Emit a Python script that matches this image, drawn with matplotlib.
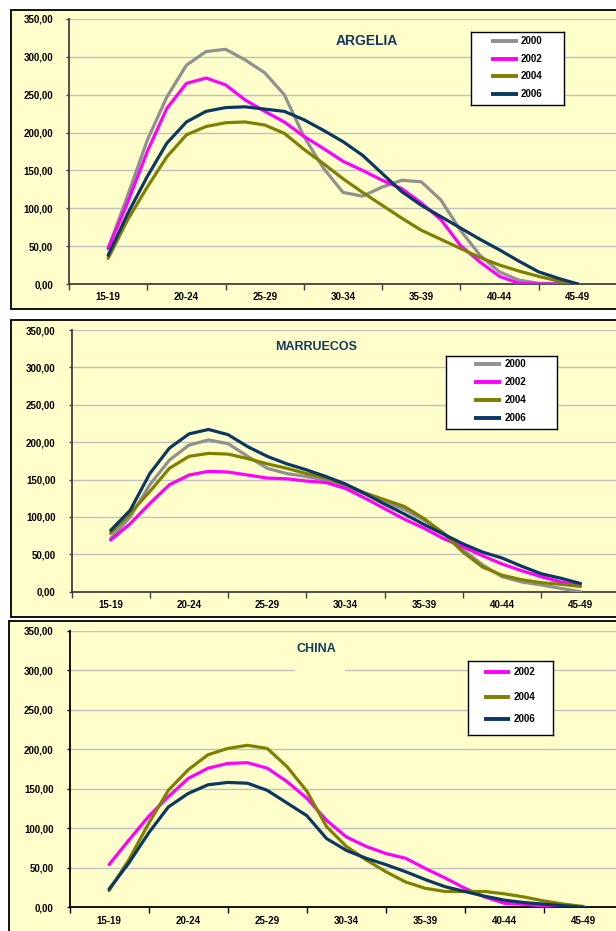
import matplotlib
matplotlib.use("Agg")
import matplotlib.pyplot as plt
import numpy as np
from matplotlib.patches import Rectangle

plt.rcParams["font.family"] = ["Liberation Sans", "DejaVu Sans"]
plt.rcParams["font.weight"] = "bold"

# category axis (age groups), curves sampled every quarter of a group
groups = ["15-19", "20-24", "25-29", "30-34", "35-39", "40-44", "45-49"]
pos = np.linspace(0, 6, 25)

years_4 = ["2000", "2002", "2004", "2006"]
years_3 = ["2002", "2004", "2006"]

# ARGELIA
arg_2000 = [47, 117, 190, 247, 289, 307, 310, 296, 279, 250, 195, 153, 121, 116, 128, 137, 135, 111, 71, 38, 16, 5, 1, 0.5, 0]
arg_2002 = [47, 108, 175, 232, 265, 272, 263, 243, 228, 214, 195, 179, 162, 150, 137, 126, 107, 85, 51, 29, 10, 1, 0, 0, 0]
arg_2004 = [34, 85, 128, 168, 197, 208, 213, 214, 210, 199, 178, 159, 139, 121, 104, 87, 71, 59, 47, 35, 25, 17, 10, 4, 0]
arg_2006 = [38, 93, 142, 186, 214, 228, 233, 234, 231, 228, 217, 203, 188, 170, 146, 122, 104, 89, 74, 59, 45, 30, 16, 7.5, 0]

# MARRUECOS
mar_2000 = [71, 100, 143, 176, 196, 203, 198, 181, 165, 158, 154, 149, 140, 131, 120, 110, 96, 79, 56, 36, 20, 13, 9, 4.5, 0]
mar_2002 = [69, 91, 118, 143, 156, 161, 160, 156, 152, 151, 148, 146, 138, 125, 111, 97, 85, 71, 60, 48, 37, 28, 20, 13, 8]
mar_2004 = [78, 105, 134, 165, 181, 185, 184, 178, 171, 165, 158, 152, 143, 132, 123, 114, 98, 78, 53, 33, 22, 16, 12, 10, 7]
mar_2006 = [82, 109, 158, 192, 211, 217, 210, 194, 181, 171, 163, 154, 144, 131, 117, 104, 90, 77, 64, 53, 45, 34, 24, 18, 11]

# CHINA
chn_2002 = [54, 85, 115, 140, 163, 176, 182, 183, 176, 159, 138, 110, 89, 77, 68, 62, 49, 37, 24, 13, 5, 3.8, 1.7, 0.8, 0]
chn_2004 = [21, 60, 106, 148, 174, 193, 201, 205, 201, 178, 147, 102, 77, 60, 45, 32, 24, 20, 20, 20, 17, 13, 8, 4, 1]
chn_2006 = [23, 56, 94, 127, 144, 155, 158, 157, 148, 132, 116, 87, 72, 62, 54, 45, 35, 26, 20, 14, 9, 6, 4, 2, 0]

colors = {"2000": "#909090", "2002": "#FF00FF", "2004": "#808000", "2006": "#0B3863"}
YELLOW = "#FFFFCC"
TITLE_C = "#17375E"

W, H = 616, 931
fig = plt.figure(figsize=(W / 100, H / 100), dpi=100)


def rect(x0, y0, x1, y1):
    # pixel box (top-left origin) -> figure fraction [l, b, w, h]
    return [x0 / W, 1 - y1 / H, (x1 - x0) / W, (y1 - y0) / H]


def fmt(v):
    return f"{v:.2f}".replace(".", ",")


panels = [
    dict(title="ARGELIA", tpos=(367, 41), tsize=10, frame=(10.7, 9.5, 640, 309),
         plot=(69, 19, 617, 284), axc="#404040",
         series=list(zip(years_4, [arg_2000, arg_2002, arg_2004, arg_2006])),
         leg=(470.7, 31.7, 563.7, 105), leg_y=[41, 58.7, 76.3, 94.3], leg_x=(490.7, 518, 520.7)),
    dict(title="MARRUECOS", tpos=(316.5, 347), tsize=9, frame=(10.7, 320, 640, 617),
         plot=(71.5, 330, 619.6, 591.7), axc="#404040",
         series=list(zip(years_4, [mar_2000, mar_2002, mar_2004, mar_2006])),
         leg=(445.7, 356, 557.3, 429), leg_y=[364, 382, 400, 418], leg_x=(474, 501.3, 504.7)),
    dict(title="CHINA", tpos=(316, 649), tsize=9, frame=(8.7, 620.5, 640, 960),
         plot=(69.5, 630.7, 623.2, 907.3), axc="#000000",
         series=list(zip(years_3, [chn_2002, chn_2004, chn_2006])),
         leg=(468.3, 661.3, 553, 734.7), leg_y=[672.3, 697.3, 719.3], leg_x=(483.7, 510.3, 513.7)),
]

for p in panels:
    fx0, fy0, fx1, fy1 = p["frame"]
    l, b, w, h = rect(fx0, fy0, fx1, fy1)
    fig.add_artist(Rectangle((l, b), w, h, transform=fig.transFigure, facecolor=YELLOW,
                             edgecolor="black", lw=1.3, zorder=-1))

    ax = fig.add_axes(rect(*p["plot"]))
    ax.set_facecolor("none")
    for year, vals in p["series"]:
        ax.plot(pos, vals, color=colors[year], lw=2.3, solid_joinstyle="round",
                solid_capstyle="round", zorder=3)

    ax.set_xlim(-0.5, 6.5)
    ax.set_ylim(0, 350)
    ax.set_yticks(range(0, 351, 50))
    ax.set_yticklabels([fmt(v) for v in range(0, 351, 50)])
    ax.set_xticks(np.arange(-0.5, 7, 1))
    ax.set_xticklabels([])
    ax.set_xticks(range(len(groups)), minor=True)
    ax.set_xticklabels(groups, minor=True)
    ax.tick_params(axis="x", which="major", direction="out", length=4, width=1, color=p["axc"])
    ax.tick_params(axis="x", which="minor", length=0, pad=6, labelsize=7)
    ax.tick_params(axis="y", direction="out", length=2.5, width=1, color=p["axc"], pad=9, labelsize=7)
    ax.yaxis.grid(True, color="#C0C0C0", lw=1)
    ax.set_axisbelow(True)
    for s in ["top", "right"]:
        ax.spines[s].set_visible(False)
    for s in ["left", "bottom"]:
        ax.spines[s].set_color(p["axc"])
        ax.spines[s].set_linewidth(1.3)

    # legend box
    lx0, ly0, lx1, ly1 = p["leg"]
    lax = fig.add_axes(rect(lx0, ly0, lx1, ly1))
    lax.set_xlim(lx0, lx1)
    lax.set_ylim(ly1, ly0)
    lax.set_facecolor("white")
    lax.set_xticks([])
    lax.set_yticks([])
    for s in lax.spines.values():
        s.set_color("black")
        s.set_linewidth(1)
    hx0, hx1, tx = p["leg_x"]
    for (year, _), ey in zip(p["series"], p["leg_y"]):
        lax.plot([hx0, hx1], [ey, ey], color=colors[year], lw=2.8, solid_capstyle="butt")
        lax.text(tx, ey, year, fontsize=7, fontweight="bold", va="center", ha="left")

    tx_, ty_ = p["tpos"]
    fig.text(tx_ / W, 1 - ty_ / H, p["title"], fontsize=p["tsize"], fontweight="bold",
             color=TITLE_C, ha="center", va="center", zorder=5)

# title box of CHINA hides a piece of the 300 gridline
l, b, w, h = rect(295, 664, 345, 676)
fig.add_artist(Rectangle((l, b), w, h, transform=fig.transFigure, facecolor=YELLOW,
                         edgecolor="none", zorder=2))

fig.savefig("out.png", dpi=100, facecolor="white")
